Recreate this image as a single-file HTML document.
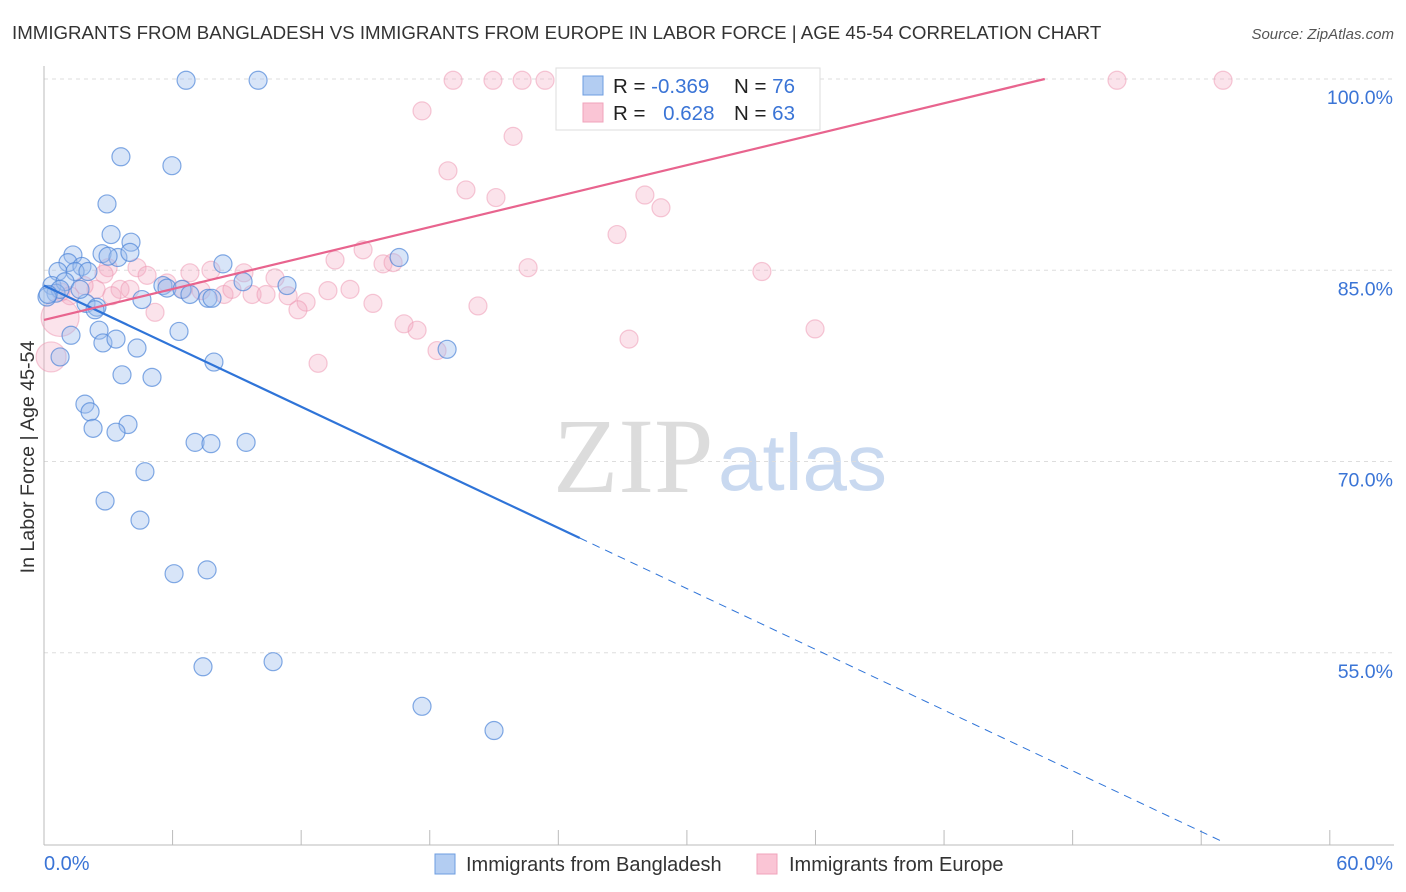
<!DOCTYPE html>
<html><head><meta charset="utf-8"><style>
body{margin:0;background:#fff;font-family:"Liberation Sans",sans-serif;}
svg{display:block}
</style></head><body>
<svg id="chart" width="1406" height="892">
<text x="12" y="39" font-size="18.7" fill="#333">IMMIGRANTS FROM BANGLADESH VS IMMIGRANTS FROM EUROPE IN LABOR FORCE | AGE 45-54 CORRELATION CHART</text>
<text x="1394" y="39" font-size="15" fill="#555" font-style="italic" text-anchor="end">Source: ZipAtlas.com</text>
<g>
<text x="553" y="492" font-size="107" font-family="Liberation Serif,serif" fill="#dcdcdc">ZIP</text>
<text x="718" y="490" font-size="80" fill="#c9d9f0">atlas</text>
</g>
<g id="grid"></g>
<line x1="44" y1="66" x2="44" y2="845" stroke="#bbb"/>
<line x1="44" y1="845" x2="1394" y2="845" stroke="#bbb"/>
<text transform="translate(34,457) rotate(-90)" font-size="19.6" fill="#333" text-anchor="middle">In Labor Force | Age 45-54</text>
<text x="44" y="870" font-size="20" fill="#3a74d6">0.0%</text>
<text x="1393" y="870" font-size="20" fill="#3a74d6" text-anchor="end">60.0%</text>
<g id="pink"></g><g id="blue"></g><g id="trends"></g>
<g>
<rect x="556" y="68" width="264" height="62" fill="#fff" stroke="#ddd"/>
<rect x="583" y="76" width="20" height="19" fill="#b3cdf2" stroke="#6e9de0"/>
<rect x="583" y="103" width="20" height="19" fill="#fac5d5" stroke="#f0a3bb"/>
<text x="613" y="93" font-size="20.5" fill="#222">R = <tspan fill="#3a74d6">-0.369</tspan></text>
<text x="734" y="93" font-size="20.5" fill="#222">N = <tspan fill="#3a74d6">76</tspan></text>
<text x="613" y="120" font-size="20.5" fill="#222">R = <tspan fill="#3a74d6" dx="12">0.628</tspan></text>
<text x="734" y="120" font-size="20.5" fill="#222">N = <tspan fill="#3a74d6">63</tspan></text>
</g>
<g>
<rect x="435" y="854" width="20" height="20" fill="#b3cdf2" stroke="#6e9de0"/>
<text x="466" y="871" font-size="20" fill="#333">Immigrants from Bangladesh</text>
</g>
<g>
<rect x="757" y="854" width="20" height="20" fill="#fac5d5" stroke="#f0a3bb"/>
<text x="789" y="871" font-size="20" fill="#333">Immigrants from Europe</text>
</g>
</svg>
<script>
const yTicks=[100,85,70,55];
const yTickLabels=["100.0%","85.0%","70.0%","55.0%"];
const xTicks=[0,6,12,18,24,30,36,42,48,54,60];
const blueX=[6.63,9.99,3.59,5.97,2.94,3.13,4.06,2.71,1.35,3.45,4.01,2.99,1.12,1.77,0.65,1.45,2.05,16.57,8.35,9.29,0.37,0.98,5.55,5.74,6.44,6.81,11.34,7.65,7.84,4.57,1.96,2.47,2.38,0.56,0.75,0.14,1.26,2.57,6.30,2.75,3.36,4.34,18.81,0.75,7.93,3.64,5.04,1.91,2.15,2.29,3.92,3.36,7.05,7.79,9.43,4.71,2.85,4.48,6.07,7.61,7.42,10.69,17.64,21.0,0.19,1.68];
const blueY=[99.9,99.9,93.9,93.2,90.2,87.8,87.2,86.3,86.2,86.0,86.4,86.1,85.6,85.3,84.9,84.9,84.9,86.0,85.5,84.1,83.8,84.1,83.8,83.6,83.5,83.1,83.8,82.8,82.8,82.7,82.4,82.1,81.9,83.2,83.5,82.9,79.9,80.3,80.2,79.3,79.6,78.9,78.8,78.2,77.8,76.8,76.6,74.5,73.9,72.6,72.9,72.3,71.5,71.4,71.5,69.2,66.9,65.4,61.2,61.5,53.9,54.3,50.8,48.9,83.1,83.5];
const pinkX=[19.09,20.95,22.31,23.38,24.40,25.24,31.92,32.48,50.07,55.02,17.64,21.89,18.85,19.69,21.09,28.04,28.79,26.74,14.89,13.58,15.82,16.29,22.59,33.50,2.99,4.34,4.81,6.81,7.79,9.33,10.78,5.74,6.49,7.33,8.40,8.77,9.71,10.36,11.39,12.23,11.85,13.25,14.28,15.35,16.80,17.41,18.34,20.25,27.30,35.98,12.79,5.18,3.55,2.43,1.87,0.79,1.21,2.80,3.17,4.01,0.33,0.75];
const pinkY=[99.9,99.9,99.9,99.9,99.9,99.9,99.9,99.9,99.9,99.9,97.5,95.5,92.8,91.3,90.7,90.9,89.9,87.8,86.6,85.8,85.5,85.6,85.2,84.9,85.2,85.2,84.6,84.8,85.0,84.8,84.4,84.0,83.5,83.4,83.1,83.5,83.1,83.1,83.0,82.5,81.9,83.4,83.5,82.4,80.8,80.3,78.7,82.2,79.6,80.4,77.7,81.7,83.5,83.5,83.8,83.3,83.0,84.7,83.0,83.5,78.2,81.3];
const pinkR=[9,9,9,9,9,9,9,9,9,9,9,9,9,9,9,9,9,9,9,9,9,9,9,9,9,9,9,9,9,9,9,9,9,9,9,9,9,9,9,9,9,9,9,9,9,9,9,9,9,9,9,9,9,9,9,9,9,9,9,9,15,19];
const blueTrend=[[0,83.8],[25.0,64.0],[55.1,40.1]];
const pinkTrend=[[0,81.1],[46.7,100]];
const NS="http://www.w3.org/2000/svg";
const sx=v=>44+v*21.43, sy=v=>79+(100-v)*12.75;
function mk(tag,attrs,parent){const e=document.createElementNS(NS,tag);for(const k in attrs)e.setAttribute(k,attrs[k]);document.getElementById(parent).appendChild(e);return e;}
yTicks.forEach((t,i)=>{
 const l=mk('line',{x1:44,x2:1394,y1:sy(t),y2:sy(t),stroke:'#ddd','stroke-dasharray':'4,4'},'grid');
 
 
 const tx=mk('text',{x:1393,y:sy(t)+25,'font-size':19.5,fill:'#3a74d6','text-anchor':'end'},'grid');
 tx.textContent=yTickLabels[i];
 
 
});
xTicks.forEach(t=>{
 const l=mk('line',{x1:sx(t),x2:sx(t),y1:830,y2:845,stroke:'#bbb'},'grid');
 
 
});
pinkX.forEach((x,i)=>{
 const c=mk('circle',{cx:sx(x),cy:sy(pinkY[i]),r:pinkR[i],fill:'#f4a9c0','fill-opacity':0.32,stroke:'#ee94b0','stroke-opacity':0.5,'stroke-width':1.2},'pink');
 
 
});
blueX.forEach((x,i)=>{
 const c=mk('circle',{cx:sx(x),cy:sy(blueY[i]),r:9,fill:'#9dbfee','fill-opacity':0.4,stroke:'#4f86d9','stroke-opacity':0.7,'stroke-width':1.2},'blue');
 
 
});
const b1=mk('line',{x1:sx(blueTrend[0][0]),y1:sy(blueTrend[0][1]),x2:sx(blueTrend[1][0]),y2:sy(blueTrend[1][1]),stroke:'#2f74d8','stroke-width':2.2},'trends');


const b2=mk('line',{x1:sx(blueTrend[1][0]),y1:sy(blueTrend[1][1]),x2:sx(blueTrend[2][0]),y2:sy(blueTrend[2][1]),stroke:'#2f74d8','stroke-width':1,'stroke-dasharray':'8,6'},'trends');


const p1=mk('line',{x1:sx(pinkTrend[0][0]),y1:sy(pinkTrend[0][1]),x2:sx(pinkTrend[1][0]),y2:sy(pinkTrend[1][1]),stroke:'#e8648e','stroke-width':2.2},'trends');


</script>
</body></html>
